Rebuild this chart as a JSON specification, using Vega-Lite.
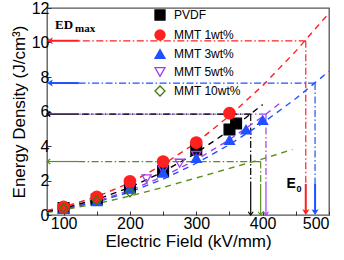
{
  "$schema": "https://vega.github.io/schema/vega-lite/v6.json",
  "width": 282,
  "height": 207,
  "autosize": {"type": "none"},
  "padding": {"left": 47, "top": 8, "right": 15, "bottom": 45},
  "background": "white",
  "config": {
    "font": "Liberation Sans",
    "view": {"stroke": "#555555", "strokeWidth": 1.3},
    "axis": {
      "domain": false,
      "grid": false,
      "tickColor": "#333333",
      "tickSize": -4,
      "tickCount": 30,
      "labelOverlap": false,
      "labelFontSize": 16,
      "labelColor": "#000000",
      "titleFontSize": 17,
      "titleFontWeight": "normal",
      "titleColor": "#000000",
      "labelFont": "Liberation Sans",
      "titleFont": "Liberation Sans"
    },
    "legend": {
      "padding": 0,
      "labelFontSize": 12,
      "labelFont": "Liberation Sans",
      "labelColor": "#000000",
      "symbolSize": 100,
      "symbolStrokeWidth": 1.3,
      "rowPadding": 4,
      "labelOffset": 8
    }
  },
  "datasets": {
    "pts": [
      {"series": "PVDF", "E": 100, "ED": 0.4},
      {"series": "PVDF", "E": 150, "ED": 0.9},
      {"series": "PVDF", "E": 200, "ED": 1.6},
      {"series": "PVDF", "E": 250, "ED": 2.55},
      {"series": "PVDF", "E": 300, "ED": 3.8},
      {"series": "PVDF", "E": 350, "ED": 4.95},
      {"series": "PVDF", "E": 360, "ED": 5.3},
      {"series": "MMT 5wt%", "E": 100, "ED": 0.4},
      {"series": "MMT 5wt%", "E": 150, "ED": 0.9},
      {"series": "MMT 5wt%", "E": 200, "ED": 1.5},
      {"series": "MMT 5wt%", "E": 225, "ED": 2.1},
      {"series": "MMT 5wt%", "E": 250, "ED": 2.6},
      {"series": "MMT 5wt%", "E": 275, "ED": 3.0},
      {"series": "MMT 5wt%", "E": 300, "ED": 3.45},
      {"series": "MMT 3wt%", "E": 100, "ED": 0.35},
      {"series": "MMT 3wt%", "E": 150, "ED": 0.8},
      {"series": "MMT 3wt%", "E": 200, "ED": 1.55},
      {"series": "MMT 3wt%", "E": 250, "ED": 2.45},
      {"series": "MMT 3wt%", "E": 300, "ED": 3.3},
      {"series": "MMT 3wt%", "E": 350, "ED": 4.35},
      {"series": "MMT 3wt%", "E": 375, "ED": 4.95},
      {"series": "MMT 3wt%", "E": 400, "ED": 5.5},
      {"series": "MMT 1wt%", "E": 100, "ED": 0.47},
      {"series": "MMT 1wt%", "E": 150, "ED": 1.05},
      {"series": "MMT 1wt%", "E": 200, "ED": 1.95},
      {"series": "MMT 1wt%", "E": 250, "ED": 3.1},
      {"series": "MMT 1wt%", "E": 300, "ED": 4.2},
      {"series": "MMT 1wt%", "E": 350, "ED": 5.9},
      {"series": "MMT 10wt%", "E": 100, "ED": 0.4},
      {"series": "MMT 10wt%", "E": 150, "ED": 0.85},
      {"series": "MMT 10wt%", "E": 200, "ED": 1.3}
    ],
    "fits": [
      {"series": "MMT 10wt%", "E": 75, "ED": 0.15},
      {"series": "MMT 10wt%", "E": 100, "ED": 0.3},
      {"series": "MMT 10wt%", "E": 150, "ED": 0.65},
      {"series": "MMT 10wt%", "E": 200, "ED": 1.1},
      {"series": "MMT 10wt%", "E": 250, "ED": 1.6},
      {"series": "MMT 10wt%", "E": 300, "ED": 2.15},
      {"series": "MMT 10wt%", "E": 350, "ED": 2.7},
      {"series": "MMT 10wt%", "E": 400, "ED": 3.25},
      {"series": "MMT 10wt%", "E": 445, "ED": 3.8},
      {"series": "MMT 5wt%", "E": 75, "ED": 0.2},
      {"series": "MMT 5wt%", "E": 100, "ED": 0.36},
      {"series": "MMT 5wt%", "E": 150, "ED": 0.8},
      {"series": "MMT 5wt%", "E": 200, "ED": 1.43},
      {"series": "MMT 5wt%", "E": 250, "ED": 2.23},
      {"series": "MMT 5wt%", "E": 300, "ED": 3.2},
      {"series": "MMT 5wt%", "E": 350, "ED": 4.37},
      {"series": "MMT 5wt%", "E": 400, "ED": 5.7},
      {"series": "MMT 5wt%", "E": 430, "ED": 6.6},
      {"series": "MMT 3wt%", "E": 75, "ED": 0.19},
      {"series": "MMT 3wt%", "E": 100, "ED": 0.33},
      {"series": "MMT 3wt%", "E": 150, "ED": 0.75},
      {"series": "MMT 3wt%", "E": 200, "ED": 1.33},
      {"series": "MMT 3wt%", "E": 250, "ED": 2.08},
      {"series": "MMT 3wt%", "E": 300, "ED": 3.0},
      {"series": "MMT 3wt%", "E": 350, "ED": 4.08},
      {"series": "MMT 3wt%", "E": 400, "ED": 5.33},
      {"series": "MMT 3wt%", "E": 450, "ED": 6.75},
      {"series": "MMT 3wt%", "E": 500, "ED": 8.33},
      {"series": "PVDF", "E": 75, "ED": 0.22},
      {"series": "PVDF", "E": 100, "ED": 0.4},
      {"series": "PVDF", "E": 150, "ED": 0.9},
      {"series": "PVDF", "E": 200, "ED": 1.6},
      {"series": "PVDF", "E": 250, "ED": 2.5},
      {"series": "PVDF", "E": 300, "ED": 3.6},
      {"series": "PVDF", "E": 350, "ED": 4.9},
      {"series": "PVDF", "E": 400, "ED": 6.4},
      {"series": "MMT 1wt%", "E": 75, "ED": 0.26},
      {"series": "MMT 1wt%", "E": 100, "ED": 0.47},
      {"series": "MMT 1wt%", "E": 150, "ED": 1.05},
      {"series": "MMT 1wt%", "E": 200, "ED": 1.87},
      {"series": "MMT 1wt%", "E": 250, "ED": 2.92},
      {"series": "MMT 1wt%", "E": 300, "ED": 4.2},
      {"series": "MMT 1wt%", "E": 350, "ED": 5.75},
      {"series": "MMT 1wt%", "E": 400, "ED": 7.5},
      {"series": "MMT 1wt%", "E": 450, "ED": 9.5},
      {"series": "MMT 1wt%", "E": 500, "ED": 11.7}
    ],
    "guides": [
      {"series": "MMT 5wt%", "E0": 405, "EDm": 5.85},
      {"series": "MMT 10wt%", "E0": 397, "EDm": 3.1},
      {"series": "PVDF", "E0": 382, "EDm": 5.85},
      {"series": "MMT 3wt%", "E0": 479, "EDm": 7.65},
      {"series": "MMT 1wt%", "E0": 465, "EDm": 10.1}
    ]
  },
  "layer": [
    {
      "data": {"name": "pts"},
      "mark": {"type": "point", "opacity": 0},
      "encoding": {
        "x": {
          "field": "E",
          "type": "quantitative",
          "scale": {"domain": [75, 500], "nice": false, "zero": false},
          "axis": {
            "title": "Electric Field (kV/mm)",
            "values": [100, 150, 200, 250, 300, 350, 400, 450, 500],
            "tickCount": 30,
            "format": "d",
            "labelExpr": "datum.value % 100 === 0 ? datum.label : ''",
            "labelOverlap": false,
            "labelPadding": 4,
            "titlePadding": 2
          }
        },
        "y": {
          "field": "ED",
          "type": "quantitative",
          "scale": {"domain": [0, 12], "nice": false, "zero": false},
          "axis": {
            "title": "Energy Density (J/cm³)",
            "values": [0, 2, 4, 6, 8, 10, 12],
            "tickCount": 30,
            "format": "d",
            "labelOverlap": false,
            "labelPadding": 2,
            "titlePadding": 3
          }
        },
        "color": {"field": "series", "type": "nominal", "legend": null,
          "scale": {"domain": ["MMT 10wt%", "MMT 5wt%", "MMT 3wt%", "MMT 1wt%", "PVDF"], "range": ["#5a9018", "#a040f0", "#2050ff", "#ff2020", "#000000"]}}
      }
    },
    {
      "data": {"name": "guides"},
      "mark": {"type": "rule", "strokeWidth": 1.2, "strokeDash": [7, 2.5, 1.5, 2.5]},
      "encoding": {
        "x": {"field": "E0", "type": "quantitative"},
        "x2": {"datum": 123},
        "y": {"field": "EDm", "type": "quantitative"},
        "color": {"field": "series", "type": "nominal", "legend": null}
      }
    },
    {
      "data": {"name": "guides"},
      "mark": {"type": "rule", "strokeWidth": 1.2, "strokeDash": [7, 2.5, 1.5, 2.5]},
      "encoding": {
        "x": {"field": "E0", "type": "quantitative"},
        "y": {"field": "EDm", "type": "quantitative"},
        "y2": {"datum": 1.8},
        "color": {"field": "series", "type": "nominal", "legend": null}
      }
    },
    {
      "data": {"name": "guides"},
      "transform": [{"filter": {"field": "series", "oneOf": ["PVDF", "MMT 5wt%", "MMT 10wt%"]}}],
      "mark": {"type": "rule", "strokeWidth": 1.2},
      "encoding": {
        "x": {"datum": 75, "type": "quantitative"},
        "x2": {"datum": 123},
        "y": {"field": "EDm", "type": "quantitative"},
        "color": {"field": "series", "type": "nominal", "legend": null}
      }
    },
    {
      "data": {"name": "guides"},
      "transform": [{"filter": {"field": "series", "oneOf": ["PVDF", "MMT 5wt%", "MMT 10wt%"]}}],
      "mark": {"type": "rule", "strokeWidth": 1.2},
      "encoding": {
        "x": {"field": "E0", "type": "quantitative"},
        "y": {"datum": 0, "type": "quantitative"},
        "y2": {"datum": 1.8},
        "color": {"field": "series", "type": "nominal", "legend": null}
      }
    },
    {
      "data": {"name": "guides"},
      "transform": [{"filter": {"field": "series", "oneOf": ["PVDF", "MMT 5wt%", "MMT 10wt%"]}}],
      "mark": {"type": "point", "shape": "M1.3,-1L0,0L1.3,1", "filled": false, "size": 25, "strokeWidth": 1.2, "opacity": 1},
      "encoding": {
        "x": {"datum": 75, "type": "quantitative"},
        "y": {"field": "EDm", "type": "quantitative"},
        "color": {"field": "series", "type": "nominal", "legend": null}
      }
    },
    {
      "data": {"name": "guides"},
      "transform": [{"filter": {"field": "series", "oneOf": ["PVDF", "MMT 5wt%", "MMT 10wt%"]}}],
      "mark": {"type": "point", "shape": "M-1,-1.3L0,0L1,-1.3", "filled": false, "size": 25, "strokeWidth": 1.2, "opacity": 1},
      "encoding": {
        "x": {"field": "E0", "type": "quantitative"},
        "y": {"datum": 0, "type": "quantitative"},
        "color": {"field": "series", "type": "nominal", "legend": null}
      }
    },
    {
      "data": {"name": "guides"},
      "transform": [{"filter": {"field": "series", "oneOf": ["MMT 1wt%", "MMT 3wt%"]}}],
      "mark": {"type": "rule", "strokeWidth": 2},
      "encoding": {
        "x": {"datum": 78, "type": "quantitative"},
        "x2": {"datum": 123},
        "y": {"field": "EDm", "type": "quantitative"},
        "color": {"field": "series", "type": "nominal", "legend": null}
      }
    },
    {
      "data": {"name": "guides"},
      "transform": [{"filter": {"field": "series", "oneOf": ["MMT 1wt%", "MMT 3wt%"]}}],
      "mark": {"type": "rule", "strokeWidth": 2},
      "encoding": {
        "x": {"field": "E0", "type": "quantitative"},
        "y": {"datum": 0.2, "type": "quantitative"},
        "y2": {"datum": 1.8},
        "color": {"field": "series", "type": "nominal", "legend": null}
      }
    },
    {
      "data": {"name": "guides"},
      "transform": [{"filter": {"field": "series", "oneOf": ["MMT 1wt%", "MMT 3wt%"]}}],
      "mark": {"type": "point", "shape": "M0,0L2.6,-1.6L2,0L2.6,1.6Z", "filled": true, "size": 20, "opacity": 1},
      "encoding": {
        "x": {"datum": 75, "type": "quantitative"},
        "y": {"field": "EDm", "type": "quantitative"},
        "color": {"field": "series", "type": "nominal", "legend": null}
      }
    },
    {
      "data": {"name": "guides"},
      "transform": [{"filter": {"field": "series", "oneOf": ["MMT 1wt%", "MMT 3wt%"]}}],
      "mark": {"type": "point", "shape": "M0,0L1.6,-2.6L0,-2L-1.6,-2.6Z", "filled": true, "size": 20, "opacity": 1},
      "encoding": {
        "x": {"field": "E0", "type": "quantitative"},
        "y": {"datum": 0, "type": "quantitative"},
        "color": {"field": "series", "type": "nominal", "legend": null}
      }
    },
    {
      "data": {"name": "fits"},
      "mark": {"type": "line", "strokeWidth": 1.4, "strokeDash": [6, 5]},
      "encoding": {
        "x": {"field": "E", "type": "quantitative"},
        "y": {"field": "ED", "type": "quantitative"},
        "color": {"field": "series", "type": "nominal", "legend": null},
        "detail": {"field": "series", "type": "nominal"}
      }
    },
    {
      "data": {"name": "pts"},
      "mark": {"type": "point", "strokeWidth": 1.3, "opacity": 1},
      "encoding": {
        "x": {"field": "E", "type": "quantitative"},
        "y": {"field": "ED", "type": "quantitative"},
        "size": {"field": "series", "type": "nominal", "legend": null,
          "scale": {"domain": ["MMT 1wt%", "PVDF", "MMT 3wt%", "MMT 5wt%", "MMT 10wt%"], "range": [130, 70, 100, 80, 60]}},
        "shape": {"field": "series", "type": "nominal", "title": null,
          "legend": {"orient": "none", "legendX": 107, "legendY": 1, "title": null},
          "scale": {"domain": ["PVDF", "MMT 1wt%", "MMT 3wt%", "MMT 5wt%", "MMT 10wt%"], "range": ["square", "circle", "triangle-up", "triangle-down", "diamond"]}},
        "fill": {"field": "series", "type": "nominal", "title": null,
          "legend": {"orient": "none", "legendX": 107, "legendY": 1, "title": null},
          "scale": {"domain": ["PVDF", "MMT 1wt%", "MMT 3wt%", "MMT 5wt%", "MMT 10wt%"], "range": ["#000000", "#ff2020", "#2050ff", "transparent", "transparent"]}},
        "stroke": {"field": "series", "type": "nominal", "title": null,
          "legend": {"orient": "none", "legendX": 107, "legendY": 1, "title": null},
          "scale": {"domain": ["PVDF", "MMT 1wt%", "MMT 3wt%", "MMT 5wt%", "MMT 10wt%"], "range": ["#000000", "#ff2020", "#2050ff", "#a040f0", "#3d7a0a"]}}
      }
    },
    {
      "data": {"values": [{}]},
      "mark": {"type": "text", "text": "ED", "font": "Liberation Serif", "fontWeight": "bold", "fontSize": 13, "align": "left", "baseline": "alphabetic", "color": "#000000"},
      "encoding": {"x": {"datum": 87, "type": "quantitative"}, "y": {"datum": 10.78, "type": "quantitative"}}
    },
    {
      "data": {"values": [{}]},
      "mark": {"type": "text", "text": "max", "font": "Liberation Serif", "fontWeight": "bold", "fontSize": 11, "align": "left", "baseline": "alphabetic", "dx": 20, "dy": 3, "color": "#000000"},
      "encoding": {"x": {"datum": 87, "type": "quantitative"}, "y": {"datum": 10.78, "type": "quantitative"}}
    },
    {
      "data": {"values": [{}]},
      "mark": {"type": "text", "text": "E", "font": "Liberation Sans", "fontWeight": "bold", "fontSize": 14, "align": "left", "baseline": "alphabetic", "color": "#000000"},
      "encoding": {"x": {"datum": 436, "type": "quantitative"}, "y": {"datum": 1.57, "type": "quantitative"}}
    },
    {
      "data": {"values": [{}]},
      "mark": {"type": "text", "text": "0", "font": "Liberation Sans", "fontWeight": "bold", "fontSize": 9, "align": "left", "baseline": "alphabetic", "dx": 10, "dy": 4, "color": "#000000"},
      "encoding": {"x": {"datum": 436, "type": "quantitative"}, "y": {"datum": 1.57, "type": "quantitative"}}
    }
  ]
}
